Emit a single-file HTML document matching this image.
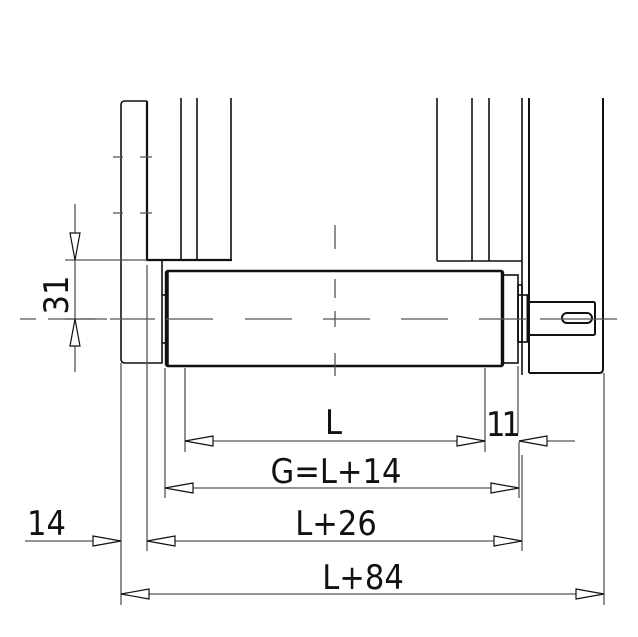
<!DOCTYPE html>
<html><head><meta charset="utf-8"><style>
html,body{margin:0;padding:0;background:#fff}
svg{display:block}
text{font-family:"DejaVu Sans Condensed","Liberation Sans",sans-serif;font-weight:200;fill:#111}
</style></head><body>
<svg width="638" height="637" viewBox="0 0 638 637" xmlns="http://www.w3.org/2000/svg">
<g fill="none" stroke="#111" stroke-width="1.6">
<path d="M147,101 H125 Q121,101 121,105 V359 Q121,363 125,363 H162 V260"/>
<path d="M147,101 V260 H232" stroke-width="2.2"/>
<line x1="181" y1="98" x2="181" y2="260"/>
<line x1="197" y1="98" x2="197" y2="260"/>
<line x1="231" y1="98" x2="231" y2="260"/>
<line x1="162" y1="295" x2="166" y2="295"/>
<line x1="162" y1="343" x2="166" y2="343"/>
<line x1="437" y1="98" x2="437" y2="261"/>
<line x1="472" y1="98" x2="472" y2="261"/>
<line x1="489" y1="98" x2="489" y2="261"/>
<line x1="437" y1="261" x2="522" y2="261"/>
<line x1="522" y1="98" x2="522" y2="375"/>
<line x1="529" y1="98" x2="529" y2="373" stroke-width="2"/>
<path d="M603,98 V369 Q603,373 599,373 H529" stroke-width="2"/>
<rect x="166" y="271" width="337" height="95" rx="2" stroke-width="2.4"/>
<line x1="167" y1="272" x2="167" y2="365" stroke-width="3.5"/>
<line x1="502" y1="272" x2="502" y2="365" stroke-width="2.5"/>
<rect x="503" y="275" width="15" height="88"/>
<rect x="518" y="285" width="4" height="57"/>
<rect x="518" y="295" width="10" height="47"/>
<line x1="528" y1="295" x2="528" y2="342" stroke-width="3"/>
<rect x="529" y="302" width="66" height="33" rx="1.5" stroke-width="2"/>
<rect x="562" y="313" width="30" height="10" rx="5" stroke-width="2"/>
</g>
<g stroke="#555" stroke-width="1.3" fill="none">
<path d="M20,319 H36 M48,319 H95 M110,319 H155 M166,319 H213 M245,319 H292 M323,319 H370 M401,319 H448 M479,319 H526 M540,319 H617"/>
<path d="M335,225 V249 M335,279 V298 M335,311 V327 M335,353 V376"/>
<path d="M113,157 H123 M140,157 H152 M113,213 H123 M140,213 H152"/>
<line x1="121" y1="363" x2="121" y2="605"/>
<line x1="147" y1="265" x2="147" y2="551"/>
<line x1="165" y1="368" x2="165" y2="498"/>
<line x1="185" y1="368" x2="185" y2="452"/>
<line x1="485" y1="368" x2="485" y2="452"/>
<line x1="518" y1="366" x2="518" y2="433"/>
<line x1="519" y1="442" x2="519" y2="498"/>
<line x1="522" y1="455" x2="522" y2="551"/>
<line x1="604" y1="373" x2="604" y2="605"/>
<line x1="65" y1="260" x2="147" y2="260"/>
<line x1="65" y1="319" x2="107" y2="319"/>
<line x1="75" y1="204" x2="75" y2="372"/>
<line x1="185" y1="441" x2="485" y2="441"/>
<line x1="519" y1="441" x2="575" y2="441"/>
<line x1="165" y1="488" x2="519" y2="488"/>
<line x1="147" y1="541" x2="522" y2="541"/>
<line x1="25" y1="541" x2="121" y2="541"/>
<line x1="121" y1="594" x2="604" y2="594"/>
</g>
<g fill="#fff" stroke="#111" stroke-width="1.2">
<path d="M185,441 L213,436 L213,446 Z"/>
<path d="M485,441 L457,436 L457,446 Z"/>
<path d="M519,441 L547,436 L547,446 Z"/>
<path d="M165,488 L193,483 L193,493 Z"/>
<path d="M519,488 L491,483 L491,493 Z"/>
<path d="M147,541 L175,536 L175,546 Z"/>
<path d="M522,541 L494,536 L494,546 Z"/>
<path d="M121,541 L93,536 L93,546 Z"/>
<path d="M121,594 L149,589 L149,599 Z"/>
<path d="M604,594 L576,589 L576,599 Z"/>
<path d="M75,260 L70,233 L80,233 Z"/>
<path d="M75,319 L70,346 L80,346 Z"/>
</g>
<g font-size="34">
<text x="325" y="434">L</text>
<text x="486" y="436" letter-spacing="-4">11</text>
<text x="336" y="483" text-anchor="middle">G=L+14</text>
<text x="336" y="535" text-anchor="middle">L+26</text>
<text x="363" y="589" text-anchor="middle">L+84</text>
<text x="27" y="535">14</text>
<text transform="translate(68,295) rotate(-90)" text-anchor="middle">31</text>
</g>
</svg>
</body></html>
